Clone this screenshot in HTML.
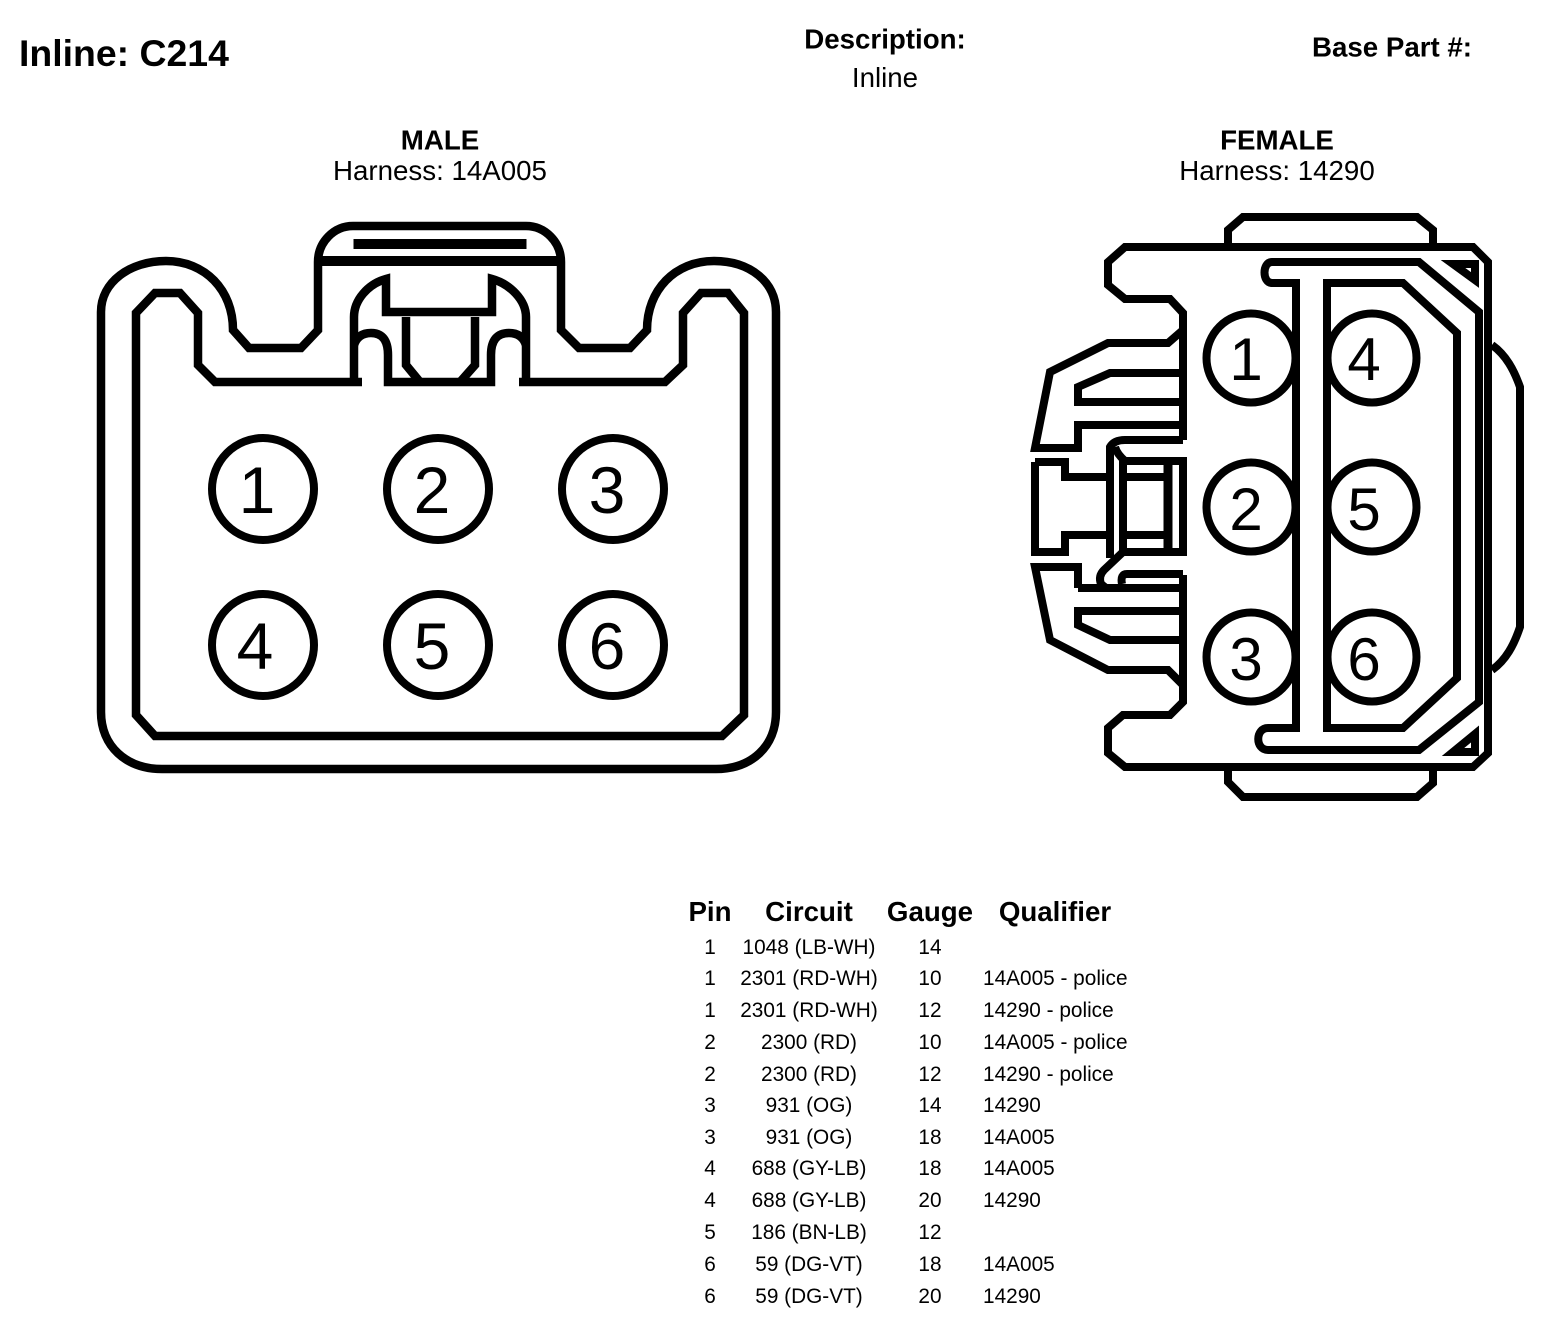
<!DOCTYPE html>
<html><head><meta charset="utf-8"><style>
html,body{margin:0;padding:0;background:#fff}
svg{display:block}
text{font-family:"Liberation Sans",sans-serif;fill:#000}
.b{font-weight:bold}
.m{text-anchor:middle}
.h{font-size:27.7px}
.d{font-size:66px}
.f{font-size:60px}
.r{font-size:20.8px}
path,circle,polygon{fill:none;stroke:#000;stroke-linejoin:miter}
</style></head><body>
<svg width="1568" height="1324" viewBox="0 0 1568 1324" xmlns="http://www.w3.org/2000/svg">
<text x="19" y="66" class="b" font-size="37.4">Inline: C214</text>
<text x="885" y="48.500" class="b h m">Description:</text>
<text x="885" y="87" class="h m">Inline</text>
<text x="1392" y="56.500" class="b h m">Base Part #:</text>
<text x="440" y="149.500" class="b h m">MALE</text>
<text x="440" y="180" class="h m">Harness: 14A005</text>
<text x="1277" y="149.500" class="b h m">FEMALE</text>
<text x="1277" y="180" class="h m">Harness: 14290</text>

<!-- MALE -->
<g stroke-width="8.500">
<path d="M101 312 C101 282 130 261 166 261 C205 261 233 290 233 330 L249 348 H301 L318 330 V262 C318 242 334 226 353 226 H526 C545 226 561 242 561 262 V330 L579 348 H630 L647 330 C647 290 675 261 714 261 C750 261 776 282 776 312 V712 C776 746 752 769 716 769 H162 C126 769 101 746 101 712 Z"/>
<path d="M362 382 H215 L198 365 V313 L180 293 H155 L136 313 V715 L155 736 H722 L744 715 V313 L728 293 H701 L683 313 V365 L665 382 H519"/>
<path d="M319 261 H561" stroke-width="10"/>
<path d="M353.500 244 H526.500" stroke-width="10"/>
<path d="M354 382 V317 C354 300 368 284 386 279 V312 H492 V279 C510 284 526 300 526 317 V382"/>
<path d="M354 345 Q358 333 371 333 Q388 333 388 355 V382 H491 V355 Q491 333 509 333 Q522 333 526 345"/>
<path d="M406 317 V365 L420 382 M475 317 V365 L460 382"/>
</g>
<g stroke-width="8">
<circle cx="263" cy="489" r="51"/><circle cx="438" cy="489" r="51"/><circle cx="613" cy="489" r="51"/>
<circle cx="263" cy="645" r="51"/><circle cx="438" cy="645" r="51"/><circle cx="613" cy="645" r="51"/>
</g>
<text x="257" y="513" class="d m">1</text><text x="432" y="513" class="d m">2</text><text x="607" y="513" class="d m">3</text>
<text x="255" y="669" class="d m">4</text><text x="432" y="669" class="d m">5</text><text x="607" y="669" class="d m">6</text>

<!-- FEMALE -->
<g stroke-width="8">
<path d="M1183 440 V313 L1170 299 H1125 L1108 285 V262 L1125 247 H1473 L1488 262 V753 L1473 767 H1125 L1108 753 V728 L1123 715 H1170 L1183 702 V575"/>
<path d="M1228 245 V230 L1243 217 H1417 L1433 230 V245"/>
<path d="M1228 769 V782 L1243 797 H1417 L1433 783 V769"/>
<path d="M1183 440 H1125 Q1114 440 1110 447 V558"/>
<path d="M1183 330 L1168 343 H1108 L1050 372 L1035 448 H1078 V425 H1183"/>
<path d="M1183 373 H1110 L1078 387 V402 H1183"/>
<path d="M1115 447 Q1117 454 1125 461"/>
<path d="M1035 462 H1065 V477 H1110 M1035 462 V552 H1065 V535 H1110"/>
<path d="M1123 461 H1183 V552 H1123 Z M1123 477 H1168 M1123 535 H1168"/>
<path d="M1168 461 V552" stroke-width="9"/>
<path d="M1123 552 L1104 570 Q1098 576 1101 584 L1106 588"/>
<path d="M1122 584 Q1120 574 1127 574 H1183"/>
<path d="M1078 588 V567 H1035 L1050 640 L1108 670 H1168 L1183 685 M1078 588 H1183 M1183 611 H1078 V625 L1110 640 H1183"/>
<path d="M1272 262 H1419 L1479 312 V702 L1419 750 H1268 C1255 750 1255 728 1268 728 H1296 V283 H1272 C1262 283 1262 262 1272 262 Z"/>
<path d="M1327 283 H1403 L1457 333 V678 L1403 728 H1327 Z"/>
<path d="M1492 345 C1506 355 1514 370 1520 387 V627 C1514 645 1506 660 1492 670"/>
<polygon points="1453,264 1475,264 1475,280"/>
<polygon points="1453,752 1475,752 1475,734"/>
<circle cx="1251" cy="358" r="44.500"/><circle cx="1372" cy="358" r="44.500"/>
<circle cx="1251" cy="507" r="44.500"/><circle cx="1372" cy="507" r="44.500"/>
<circle cx="1251" cy="657" r="44.500"/><circle cx="1372" cy="657" r="44.500"/>
</g>
<text x="1246" y="380" class="f m">1</text><text x="1364" y="380" class="f m">4</text>
<text x="1246" y="530" class="f m">2</text><text x="1364" y="530" class="f m">5</text>
<text x="1246" y="680" class="f m">3</text><text x="1364" y="680" class="f m">6</text>

<!-- TABLE -->
<text x="710" y="921" class="b h m">Pin</text><text x="809" y="921" class="b h m">Circuit</text><text x="930" y="921" class="b h m">Gauge</text><text x="1055" y="921" class="b h m">Qualifier</text>
<g class="r">
<text x="710" y="954" class="r m">1</text><text x="809" y="954" class="r m">1048 (LB-WH)</text><text x="930" y="954" class="r m">14</text>
<text x="710" y="985" class="r m">1</text><text x="809" y="985" class="r m">2301 (RD-WH)</text><text x="930" y="985" class="r m">10</text><text x="983" y="985" class="r">14A005 - police</text>
<text x="710" y="1017" class="r m">1</text><text x="809" y="1017" class="r m">2301 (RD-WH)</text><text x="930" y="1017" class="r m">12</text><text x="983" y="1017" class="r">14290 - police</text>
<text x="710" y="1049" class="r m">2</text><text x="809" y="1049" class="r m">2300 (RD)</text><text x="930" y="1049" class="r m">10</text><text x="983" y="1049" class="r">14A005 - police</text>
<text x="710" y="1081" class="r m">2</text><text x="809" y="1081" class="r m">2300 (RD)</text><text x="930" y="1081" class="r m">12</text><text x="983" y="1081" class="r">14290 - police</text>
<text x="710" y="1112" class="r m">3</text><text x="809" y="1112" class="r m">931 (OG)</text><text x="930" y="1112" class="r m">14</text><text x="983" y="1112" class="r">14290</text>
<text x="710" y="1144" class="r m">3</text><text x="809" y="1144" class="r m">931 (OG)</text><text x="930" y="1144" class="r m">18</text><text x="983" y="1144" class="r">14A005</text>
<text x="710" y="1175" class="r m">4</text><text x="809" y="1175" class="r m">688 (GY-LB)</text><text x="930" y="1175" class="r m">18</text><text x="983" y="1175" class="r">14A005</text>
<text x="710" y="1207" class="r m">4</text><text x="809" y="1207" class="r m">688 (GY-LB)</text><text x="930" y="1207" class="r m">20</text><text x="983" y="1207" class="r">14290</text>
<text x="710" y="1239" class="r m">5</text><text x="809" y="1239" class="r m">186 (BN-LB)</text><text x="930" y="1239" class="r m">12</text>
<text x="710" y="1271" class="r m">6</text><text x="809" y="1271" class="r m">59 (DG-VT)</text><text x="930" y="1271" class="r m">18</text><text x="983" y="1271" class="r">14A005</text>
<text x="710" y="1303" class="r m">6</text><text x="809" y="1303" class="r m">59 (DG-VT)</text><text x="930" y="1303" class="r m">20</text><text x="983" y="1303" class="r">14290</text>
</g>
</svg>
</body></html>
